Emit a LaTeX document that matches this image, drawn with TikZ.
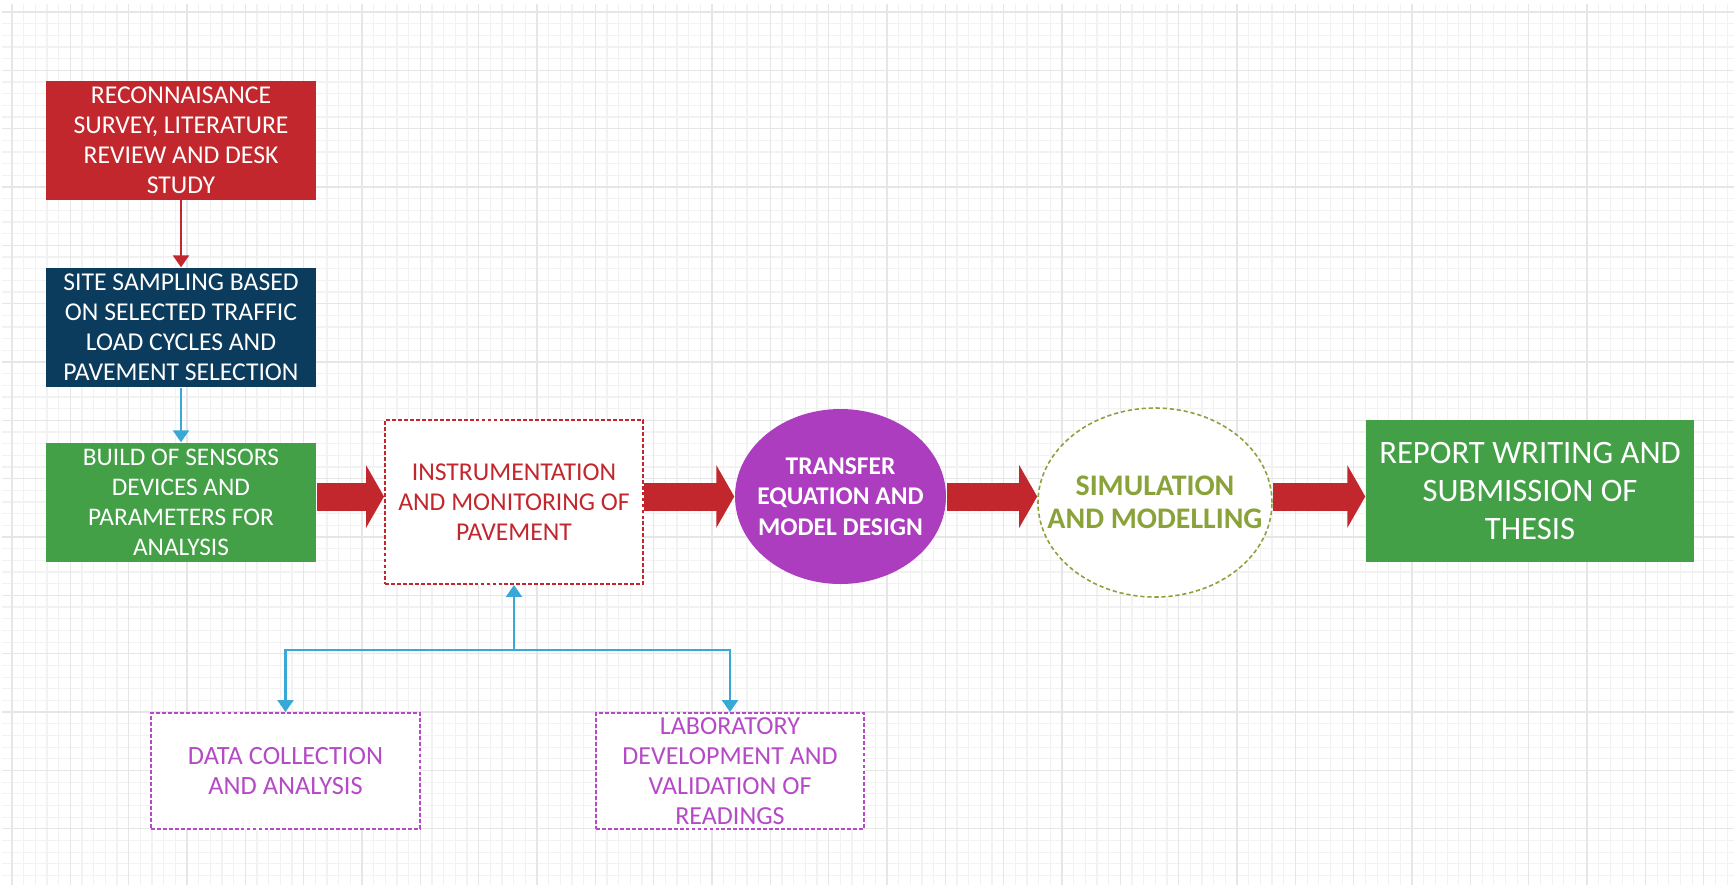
\documentclass[tikz,border=0pt]{standalone}
\usepackage{fontspec}
\setmainfont{Carlito}
\usepackage{xcolor}
\usepackage{tikz}
\usetikzlibrary{shapes, arrows.meta, positioning, calc}
\definecolor{flowred}{HTML}{C1272D}
\definecolor{flownavy}{HTML}{0B3C5D}
\definecolor{flowgreen}{HTML}{43A047}
\definecolor{flowpurple}{HTML}{AB3DBE}
\definecolor{flowlilac}{HTML}{B54AC6}
\definecolor{flowolive}{HTML}{8AA23A}
\definecolor{flowblue}{HTML}{38A9D6}
\definecolor{gridmajor}{HTML}{E6E6E6}
\definecolor{gridminor}{HTML}{F2F2F2}

\begin{document}
\begin{tikzpicture}[
  every node/.style={align=center, inner sep=0pt},
  txt/.style={font=\fontsize{7.3}{8.5}\selectfont},
  solidbox/.style={rectangle, txt, text=white, minimum width=2.70cm, minimum height=1.19cm},
  dashbox/.style={rectangle, txt, draw, fill=white, line width=0.55pt, dash pattern=on 1.1pt off 0.6pt},
  oval/.style={ellipse, inner sep=-0.5cm},
  bigarrow/.style={flowred, line width=0.28cm, -{Triangle[width=0.62cm, length=0.18cm]}},
  thinarrow/.style={line width=0.6pt, -{Triangle[width=0.16cm, length=0.12cm]}}
]
  \useasboundingbox (0,0) rectangle (17.34,-8.85);
  \fill[white] (0,0) rectangle (17.34,-8.85);
  % Background grid
  \begin{scope}[shift={(0.12,-0.12)}]
    \draw[gridminor, line width=0.3pt, step=0.116667] (-0.10,-8.73) grid (17.22,0.08);
    \draw[gridmajor, line width=0.45pt, step=0.583333] (-0.10,-8.73) grid (17.22,0.08);
  \end{scope}

  % Left column
  \node[solidbox, fill=flowred] (recon) at (1.81,-1.40)
    {RECONNAISANCE\\SURVEY, LITERATURE\\REVIEW AND DESK\\STUDY};
  \node[solidbox, fill=flownavy] (site) at (1.81,-3.275)
    {SITE SAMPLING BASED\\ON SELECTED TRAFFIC\\LOAD CYCLES AND\\PAVEMENT SELECTION};
  \node[solidbox, fill=flowgreen, font=\fontsize{7.2}{8.5}\selectfont] (build) at (1.81,-5.025)
    {BUILD OF SENSORS\\DEVICES AND\\PARAMETERS FOR\\ANALYSIS};

  % Main row
  \node[dashbox, draw=flowred, text=flowred, minimum width=2.58cm, minimum height=1.64cm] (instr) at (5.14,-5.02)
    {INSTRUMENTATION\\AND MONITORING OF\\PAVEMENT};
  \node[oval, fill=flowpurple, text=white, font=\fontsize{7.25}{8.7}\selectfont\bfseries,
    minimum width=2.11cm, minimum height=1.75cm] (trans) at (8.405,-4.965)
    {TRANSFER\\EQUATION AND\\MODEL DESIGN};
  \node[oval, draw=flowolive, fill=white, text=flowolive, line width=0.45pt, dash pattern=on 1.2pt off 0.8pt,
    font=\fontsize{8.5}{9.4}\selectfont\bfseries, minimum width=2.34cm, minimum height=1.89cm] (sim) at (11.55,-5.025)
    {SIMULATION\\AND MODELLING};
  \node[rectangle, fill=flowgreen, text=white, font=\fontsize{9.3}{10.8}\selectfont,
    minimum width=3.28cm, minimum height=1.42cm] (report) at (15.30,-4.91)
    {REPORT WRITING AND\\SUBMISSION OF\\THESIS};

  % Bottom boxes
  \node[dashbox, draw=flowlilac, text=flowlilac, font=\fontsize{7.5}{8.5}\selectfont,
    minimum width=2.69cm, minimum height=1.16cm] (data) at (2.855,-7.71)
    {DATA COLLECTION\\AND ANALYSIS};
  \node[dashbox, draw=flowlilac, text=flowlilac, font=\fontsize{7.4}{8.5}\selectfont,
    minimum width=2.68cm, minimum height=1.16cm] (lab) at (7.30,-7.71)
    {LABORATORY\\DEVELOPMENT AND\\VALIDATION OF\\READINGS};

  % Connectors
  \draw[thinarrow, flowred] (recon) -- (site);
  \draw[thinarrow, flowblue] (site) -- (build);
  \draw[bigarrow] (build.east |- trans) -- (instr.west |- trans);
  \draw[bigarrow] (instr.east |- trans) -- (trans.west);
  \draw[bigarrow] (trans.east) -- (sim.west |- trans);
  \draw[bigarrow] (sim.east |- trans) -- (report.west |- trans);
  \coordinate (junc) at ($(instr.south)+(0,-0.65)$);
  \draw[thinarrow, flowblue] (junc) -- (instr.south);
  \draw[thinarrow, flowblue] (junc) -| (data.north);
  \draw[thinarrow, flowblue] (junc) -| (lab.north);
\end{tikzpicture}
\end{document}
